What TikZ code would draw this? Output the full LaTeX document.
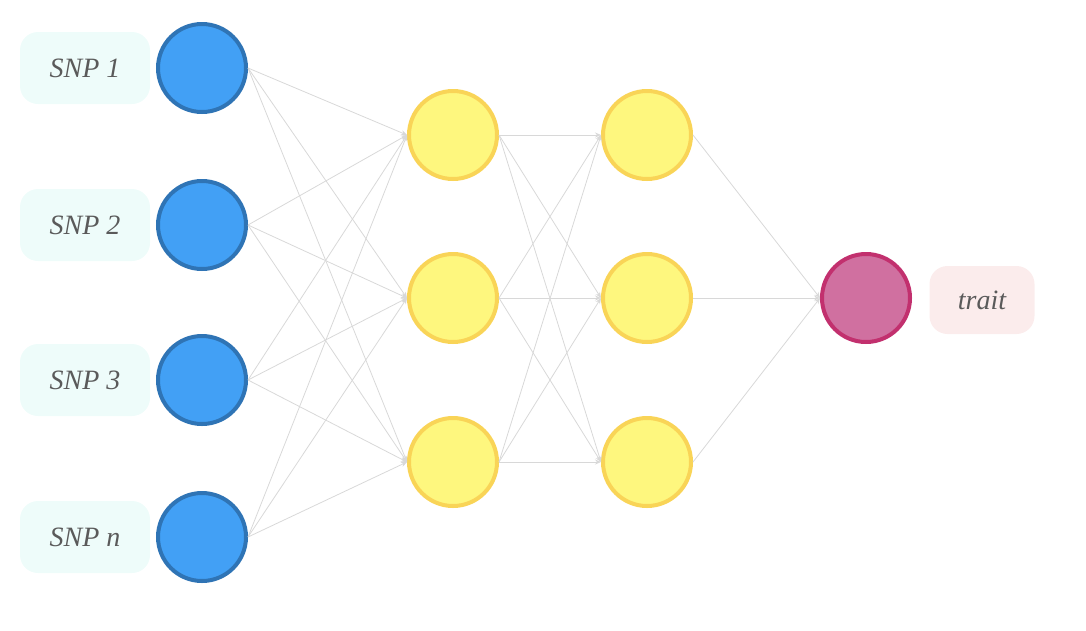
\documentclass[tikz,border=0pt]{standalone}
\usepackage{fontspec}
\setmainfont{Liberation Serif}
\usetikzlibrary{arrows.meta}
\definecolor{inblue}{HTML}{42A0F5}
\definecolor{inedge}{HTML}{2F74B5}
\definecolor{hyel}{HTML}{FEF77E}
\definecolor{hedge}{HTML}{F9D457}
\definecolor{opink}{HTML}{D070A0}
\definecolor{oedge}{HTML}{C2306E}
\definecolor{lblue}{HTML}{EEFCFA}
\definecolor{lpink}{HTML}{FBECEC}
\definecolor{edgec}{HTML}{D8D8D8}
\definecolor{txt}{HTML}{5A5A5A}
\begin{document}
\begin{tikzpicture}[x=1pt,y=-1pt,
  inn/.style={circle,draw=inedge,fill=inblue,line width=4pt,minimum size=88pt,inner sep=0},
  hid/.style={circle,draw=hedge,fill=hyel,line width=4pt,minimum size=88pt,inner sep=0},
  outn/.style={circle,draw=oedge,fill=opink,line width=4pt,minimum size=88pt,inner sep=0},
  lab/.style={fill=lblue,rounded corners=18pt,minimum width=130pt,minimum height=72pt,text=txt,font=\itshape\fontsize{28}{30}\selectfont},
  conn/.style={draw=edgec,line width=0.8pt,-{Stealth[length=6pt,width=5pt]}}]
\useasboundingbox (0,0) rectangle (1086,630);
\foreach \n/\y/\t in {1/68/SNP 1,2/225/SNP 2,3/380/SNP 3,4/537/SNP n}{
  \node[lab] (l\n) at (85,\y) {\t};
  \node[inn] (i\n) at (202,\y) {};
}
\foreach \n/\y in {1/135,2/298,3/462}{
  \node[hid] (a\n) at (453,\y) {};
  \node[hid] (b\n) at (647,\y) {};
}
\node[lab,fill=lpink,minimum width=105pt,minimum height=68pt] (lt) at (982,300) {trait};
\node[outn] (o) at (866,298) {};
\foreach \i in {1,...,4}{\foreach \j in {1,2,3}{\draw[conn] (i\i.east) -- (a\j.west);}}
\foreach \i in {1,2,3}{\foreach \j in {1,2,3}{\draw[conn] (a\i.east) -- (b\j.west);}}
\foreach \i in {1,2,3}{\draw[conn] (b\i.east) -- (o.west);}
\end{tikzpicture}
\end{document}
